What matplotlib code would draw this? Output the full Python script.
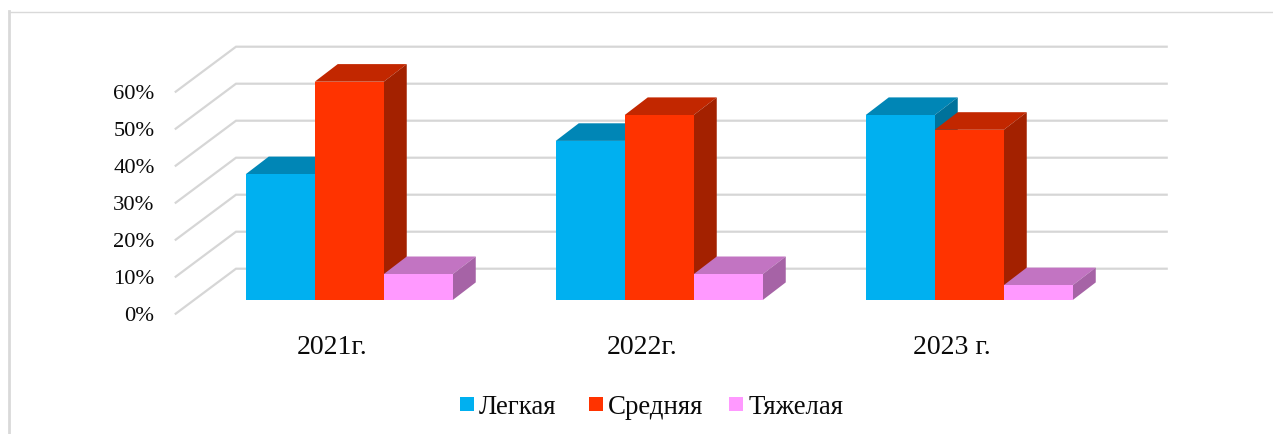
import numpy as np
import matplotlib.pyplot as plt
from matplotlib.patches import Polygon, Rectangle

plt.rcParams['font.family'] = ['Liberation Serif', 'DejaVu Sans']

years = ['2021г.', '2022г.', '2023 г.']
series = ['Легкая', 'Средняя', 'Тяжелая']
light = [34, 43, 50]
medium = [59, 50, 46]
heavy = [7, 7, 4]
y_ticks = [0, 10, 20, 30, 40, 50, 60]

front_colors = ['#00B0F0', '#FF3300', '#FF99FF']
top_colors = ['#0086B6', '#C22700', '#C274C2']
side_colors = ['#00729B', '#A32100', '#A663A6']

W, H = 1273, 434
PX_X = 310.0   # pixels per category
PX_Y = 3.7     # pixels per percent
X0 = 349.25    # pixel of first category centre
Y0 = 300.0     # pixel of 0% in the bar plane

fig = plt.figure(figsize=(W / 100, H / 100), dpi=100)
ax = fig.add_axes([0, 0, 1, 1])
ax.set_xlim(-X0 / PX_X, (W - X0) / PX_X)
ax.set_ylim((Y0 - H) / PX_Y, Y0 / PX_Y)
ax.axis('off')


def px(x, y):
    # figure pixels (from top left) to data coordinates
    return (x - X0) / PX_X, (Y0 - y) / PX_Y


# chart border, left and top only
ax.plot(*zip(px(9, 11.5), px(1273, 11.5)), color='#D9D9D9', lw=1.0)
ax.plot(*zip(px(9, 11), px(9, 434)), color='#D9D9D9', lw=2.0)

# gridlines on the back wall and the floor
for t in y_ticks:
    gy = 268.7 - t * PX_Y
    ax.plot(*zip(px(175.7, gy + 45), px(236, gy), px(1166.7, gy)), color='#D6D6D6', lw=1.6,
            solid_joinstyle='miter', zorder=1)
    ax.text(*px(154.5, gy + 45), f'{t}%', ha='right', va='center_baseline', fontsize=16.2, color='#0A0A0A')

# bars, front faces plus top and side faces offset in depth
bar_w = 69 / PX_X
dx = 23 / PX_X
dy = 17.6 / PX_Y
x = np.arange(len(years))
z = 3
for i in range(len(years)):
    for k, vals in enumerate([light, medium, heavy]):
        left = x[i] + (k - 1.5) * bar_w
        v = vals[i]
        ax.add_patch(Polygon([(left, v), (left + dx, v + dy), (left + bar_w + dx, v + dy), (left + bar_w, v)],
                             facecolor=top_colors[k], edgecolor='none', zorder=z))
        ax.add_patch(Polygon([(left + bar_w, 0), (left + bar_w + dx, dy), (left + bar_w + dx, v + dy), (left + bar_w, v)],
                             facecolor=side_colors[k], edgecolor='none', zorder=z))
        ax.bar(left, v, width=bar_w, align='edge', color=front_colors[k], linewidth=0, zorder=z + 1)
        z += 2

# category labels
for i, lab in enumerate(years):
    ax.text(*px(X0 + i * PX_X - 17, 348), lab, ha='center', va='center', fontsize=20, color='#0A0A0A')

# legend drawn by hand to hold the spacing
for lab, col, sx, tx in zip(series, front_colors, [460, 589, 729], [479, 608, 749]):
    ax.add_patch(Rectangle(px(sx, 411), 14 / PX_X, 14 / PX_Y, facecolor=col, edgecolor='none'))
    ax.text(*px(tx, 407), lab, ha='left', va='center', fontsize=19.4, color='#0A0A0A')

fig.savefig('out.png', dpi=100)
